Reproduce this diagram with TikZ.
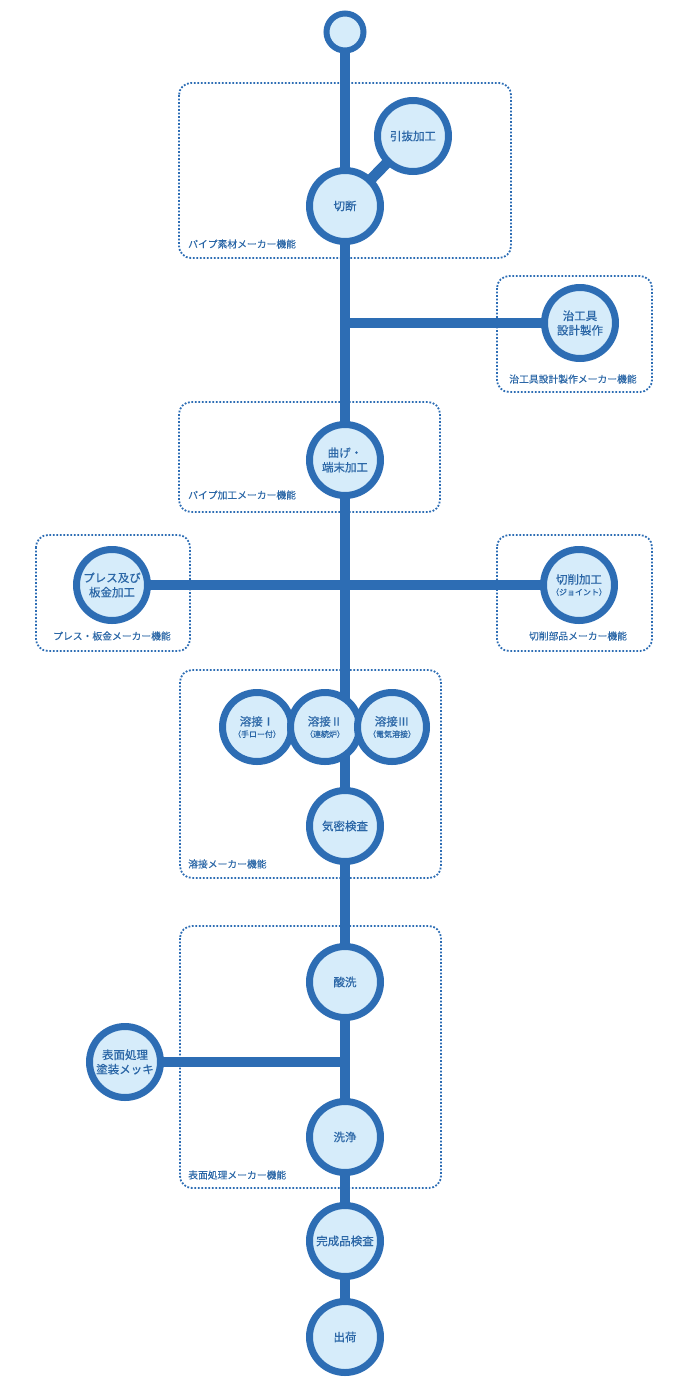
\documentclass[tikz,border=0pt]{standalone}
\usepackage{fontspec}
\newfontfamily\jp{Noto Sans CJK JP}[FakeBold=0.45]
\newfontfamily\jpl{Noto Sans CJK JP}[FakeBold=0.25]
\usetikzlibrary{backgrounds}
\definecolor{ring}{HTML}{2D6DB4}
\definecolor{fillc}{HTML}{D6ECFA}
\definecolor{txt}{HTML}{2A66A6}
\tikzset{
  proc/.style={circle,draw=ring,fill=fillc,line width=7pt,minimum size=71pt,inner sep=0pt,
    text=txt,align=center,font=\jp\fontsize{11.5}{14.5}\selectfont},
  startc/.style={circle,draw=ring,fill=fillc,line width=6pt,minimum size=37pt,inner sep=0pt},
  wproc/.style={proc,minimum size=69pt},
  trunk/.style={draw=ring,line width=10.7pt},
  groupbox/.style={draw=ring,line width=1.8pt,dash pattern=on 1.8pt off 1.7pt,rounded corners=12pt},
  grouplabel/.style={text=txt,font=\jpl\fontsize{9.8}{11}\selectfont,inner sep=0pt}
}
\newcommand{\smalltxt}[1]{{\fontsize{8}{9}\selectfont #1}}
\begin{document}
\begin{tikzpicture}[x=1pt,y=-1pt]
\useasboundingbox (0,0) rectangle (690,1398);
% group boxes
\draw[groupbox] (179,83) rectangle (511,258);
\draw[groupbox] (497,276) rectangle (652,392);
\draw[groupbox] (179,402) rectangle (440,512);
\draw[groupbox] (36,535) rectangle (190,651);
\draw[groupbox] (497,535) rectangle (652,651);
\draw[groupbox] (180,670) rectangle (441,878);
\draw[groupbox] (180,926) rectangle (441,1188);
\node[grouplabel,anchor=west] (l1) at (188,244) {パイプ素材メーカー機能};
\node[grouplabel] (l2) at (573,379) {治工具設計製作メーカー機能};
\node[grouplabel,anchor=west] (l3) at (188,495) {パイプ加工メーカー機能};
\node[grouplabel] (l4) at (112,636) {プレス・板金メーカー機能};
\node[grouplabel] (l5) at (578,636) {切削部品メーカー機能};
\node[grouplabel,anchor=west] (l6) at (188,864) {溶接メーカー機能};
\node[grouplabel,anchor=west] (l7) at (188,1175) {表面処理メーカー機能};
% nodes
\node[startc] (top) at (345,32) {};
\node[proc] (hikinuki) at (413,136) {引抜加工};
\node[proc] (setsudan) at (345,206) {切断};
\node[proc] (jig) at (580,323) {治工具\\設計製作};
\node[proc] (bend) at (345,460) {曲げ・\\端末加工};
\node[proc] (press) at (112,585) {プレス及び\\板金加工};
\node[proc] (cut) at (579,585) {切削加工\\[-3pt]\smalltxt{（ジョイント）}};
\node[wproc] (yo1) at (257,727) {溶接Ⅰ\\[-3pt]\smalltxt{（手ロー付）}};
\node[wproc] (yo2) at (325,727) {溶接Ⅱ\\[-3pt]\smalltxt{（連続炉）}};
\node[wproc] (yo3) at (392,727) {溶接Ⅲ\\[-3pt]\smalltxt{（電気溶接）}};
\node[proc] (kimitsu) at (345,826) {気密検査};
\node[proc] (sansen) at (345,982) {酸洗};
\node[proc] (hyomen) at (125,1062) {表面処理\\塗装メッキ};
\node[proc] (senjo) at (345,1137) {洗浄};
\node[proc] (kansei) at (345,1241) {完成品検査};
\node[proc] (shukka) at (345,1337) {出荷};
\coordinate (j1) at (345,323);
\coordinate (j2) at (345,585);
\coordinate (j3) at (345,1062);
\begin{scope}[on background layer]
\draw[trunk] (top.center) -- (shukka.center);
\draw[trunk] (setsudan.center) -- (hikinuki.center);
\draw[trunk] (j1) -- (jig.center);
\draw[trunk] (press.center) -- (j2) -- (cut.center);
\draw[trunk] (j3) -- (hyomen.center);
\end{scope}
\end{tikzpicture}
\end{document}
